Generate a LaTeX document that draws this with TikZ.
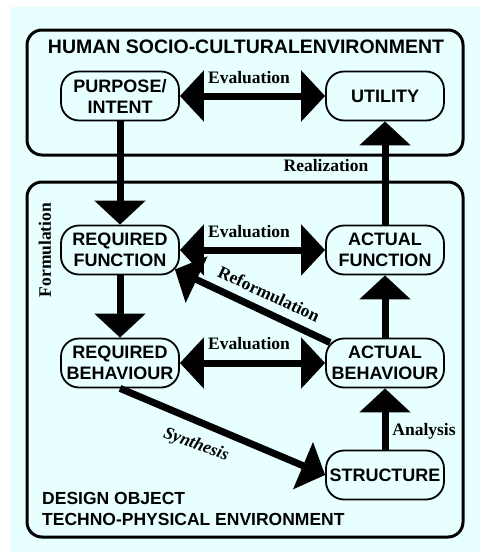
\documentclass[tikz,border=0pt]{standalone}
\usepackage{fontspec}
\setmainfont{Liberation Serif}
\newfontfamily\hv{Liberation Sans}
\usetikzlibrary{arrows.meta}
\definecolor{bgc}{HTML}{E8FFFF}
\begin{document}
\begin{tikzpicture}[x=1pt,y=-1pt,
  box/.style={draw, line width=1.8pt, rounded corners=18pt, fill=bgc, minimum width=118pt, minimum height=49pt, inner sep=0pt, align=center, font=\hv\bfseries\fontsize{18}{21}\selectfont},
  env/.style={draw, line width=3pt, rounded corners=15pt},
  lbl/.style={font=\bfseries\fontsize{17.5}{20}\selectfont, inner sep=0pt},
  hd/.style={font=\hv\bfseries\fontsize{17.5}{21}\selectfont, inner sep=0pt},
  big/.style={line width=7pt, -{Triangle[length=24pt,width=50pt]}},
  bigboth/.style={line width=7pt, {Triangle[length=24pt,width=50pt]}-{Triangle[length=24pt,width=50pt]}}
]
\useasboundingbox (0,0) rectangle (480,552);
\fill[white] (0,0) rectangle (480,552);
\fill[bgc] (10,7) rectangle (480,552);
\draw[env] (27,30) rectangle (463,155);
\draw[env] (27,182) rectangle (463,537);

\node[hd, font=\hv\bfseries\fontsize{19.5}{22}\selectfont, anchor=base] (t1) at (246,53) {HUMAN SOCIO-CULTURALENVIRONMENT};

\node[box] (p) at (120,96) {PURPOSE/\\INTENT};
\node[box] (u) at (385,96) {UTILITY};
\node[box] (rf) at (120,250) {REQUIRED\\FUNCTION};
\node[box] (af) at (385,250) {ACTUAL\\FUNCTION};
\node[box] (rb) at (120,363) {REQUIRED\\BEHAVIOUR};
\node[box] (ab) at (385,363) {ACTUAL\\BEHAVIOUR};
\node[box] (s) at (385,475) {STRUCTURE};

\draw[bigboth] (p.east) -- (u.west);
\draw[big] (p.south) -- (rf.north);
\draw[big] (af.north) -- (u.south);
\draw[bigboth] (rf.east) -- (af.west);
\draw[big] (rf.south) -- (rb.north);
\draw[bigboth] (rb.east) -- (ab.west);
\draw[big] (ab.north) -- (af.south);
\draw[big] (s.north) -- (ab.south);
\draw[big] ([shift={(5,5)}]ab.north west) -- ([shift={(-5,-6)}]rf.south east);
\draw[big] (rb.south) -- (s.west);

\node[lbl, anchor=base] (e1) at (249,83) {Evaluation};
\node[lbl, anchor=base] (e2) at (249,237) {Evaluation};
\node[lbl, anchor=base] (e3) at (249,349) {Evaluation};
\node[lbl, anchor=base] (re) at (326,171) {Realization};
\node[lbl, anchor=base] (an) at (424,435) {Analysis};
\node[lbl, rotate=90] (fo) at (45,250) {Formulation};
\node[lbl, rotate=-25] (rfm) at (269,294) {Reformulation};
\node[lbl, font=\bfseries\itshape\fontsize{17.5}{20}\selectfont, rotate=-20] (sy) at (196,445) {Synthesis};

\node[hd, anchor=base west] (d1) at (42,504) {DESIGN OBJECT};
\node[hd, anchor=base west] (d2) at (42,525) {TECHNO-PHYSICAL ENVIRONMENT};
\end{tikzpicture}
\end{document}
